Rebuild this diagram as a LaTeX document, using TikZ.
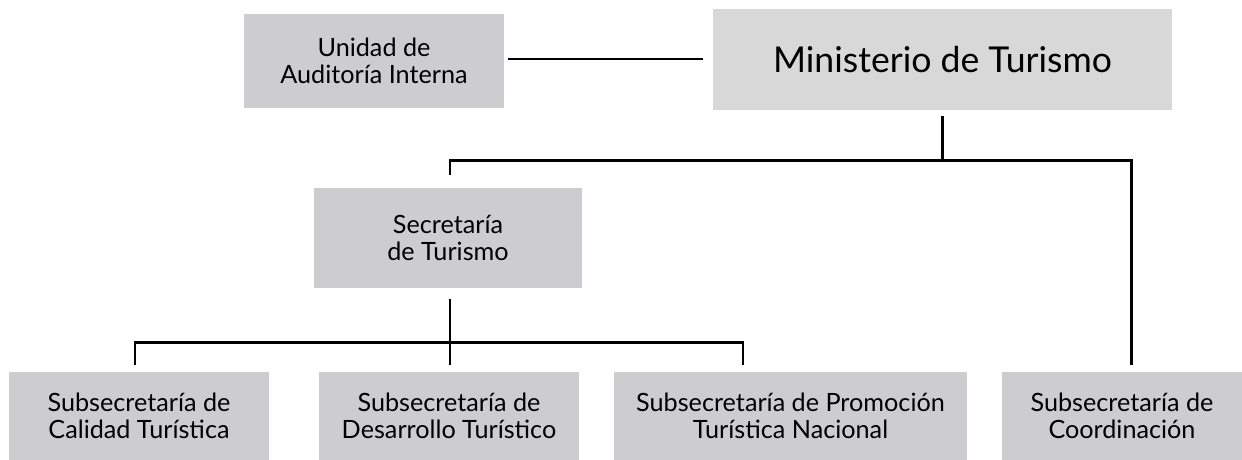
\documentclass[tikz,border=0pt]{standalone}
\usepackage{fontspec}
\setmainfont{Lato}
\usetikzlibrary{calc}
\definecolor{boxgray}{HTML}{CDCDCF}
\definecolor{mingray}{HTML}{D8D8D8}
\tikzset{
  orgbox/.style={fill=boxgray, draw=none, inner sep=0pt, align=center,
    font=\fontsize{12.6}{13.2}\selectfont},
  conn/.style={line width=1.25pt, black}
}
\begin{document}
\begin{tikzpicture}[x=0.5pt, y=-0.5pt]
\useasboundingbox (0,0) rectangle (1242,460);
\node[orgbox, minimum width=130pt, minimum height=47pt] (aud) at (374,61) {Unidad de\\Auditoría Interna};
\node[orgbox, fill=mingray, minimum width=229.5pt, minimum height=50.5pt, font=\fontsize{17.8}{19}\selectfont] (min) at (942.5,59.5) {Ministerio de Turismo};
\node[orgbox, minimum width=134pt, minimum height=50pt] (sec) at (448,238) {Secretaría\\de Turismo};
\node[orgbox, minimum width=130pt, minimum height=44pt] (cal) at (139,416) {Subsecretaría de\\Calidad Turística};
\node[orgbox, minimum width=130pt, minimum height=44pt] (des) at (449,416) {Subsecretaría de\\Desarrollo Turístico};
\node[orgbox, minimum width=176.5pt, minimum height=44pt] (pro) at (790.5,416) {Subsecretaría de Promoción\\Turística Nacional};
\node[orgbox, minimum width=120pt, minimum height=44pt] (coo) at (1122,416) {Subsecretaría de\\Coordinación};

\draw[conn] ($(aud.east)+(4,-2)$) -- ($(min.west)+(-10,-0.5)$);
\draw[conn] ($(min.south)+(0,6)$) -- ($(min.south)+(0,50)$);
\draw[conn] ($(sec.north)+(2,-13)$) |- ($(min.south)+(0,50)$) -| ($(coo.north)+(9.5,-7)$);
\draw[conn] ($(sec.south)+(2,11)$) -- ($(des.north)+(1,-7)$);
\draw[conn] ($(cal.north)+(-4,-7)$) |- ($(sec.south)+(2,54)$) -| ($(pro.north)+(-47.5,-7)$);
\end{tikzpicture}
\end{document}
